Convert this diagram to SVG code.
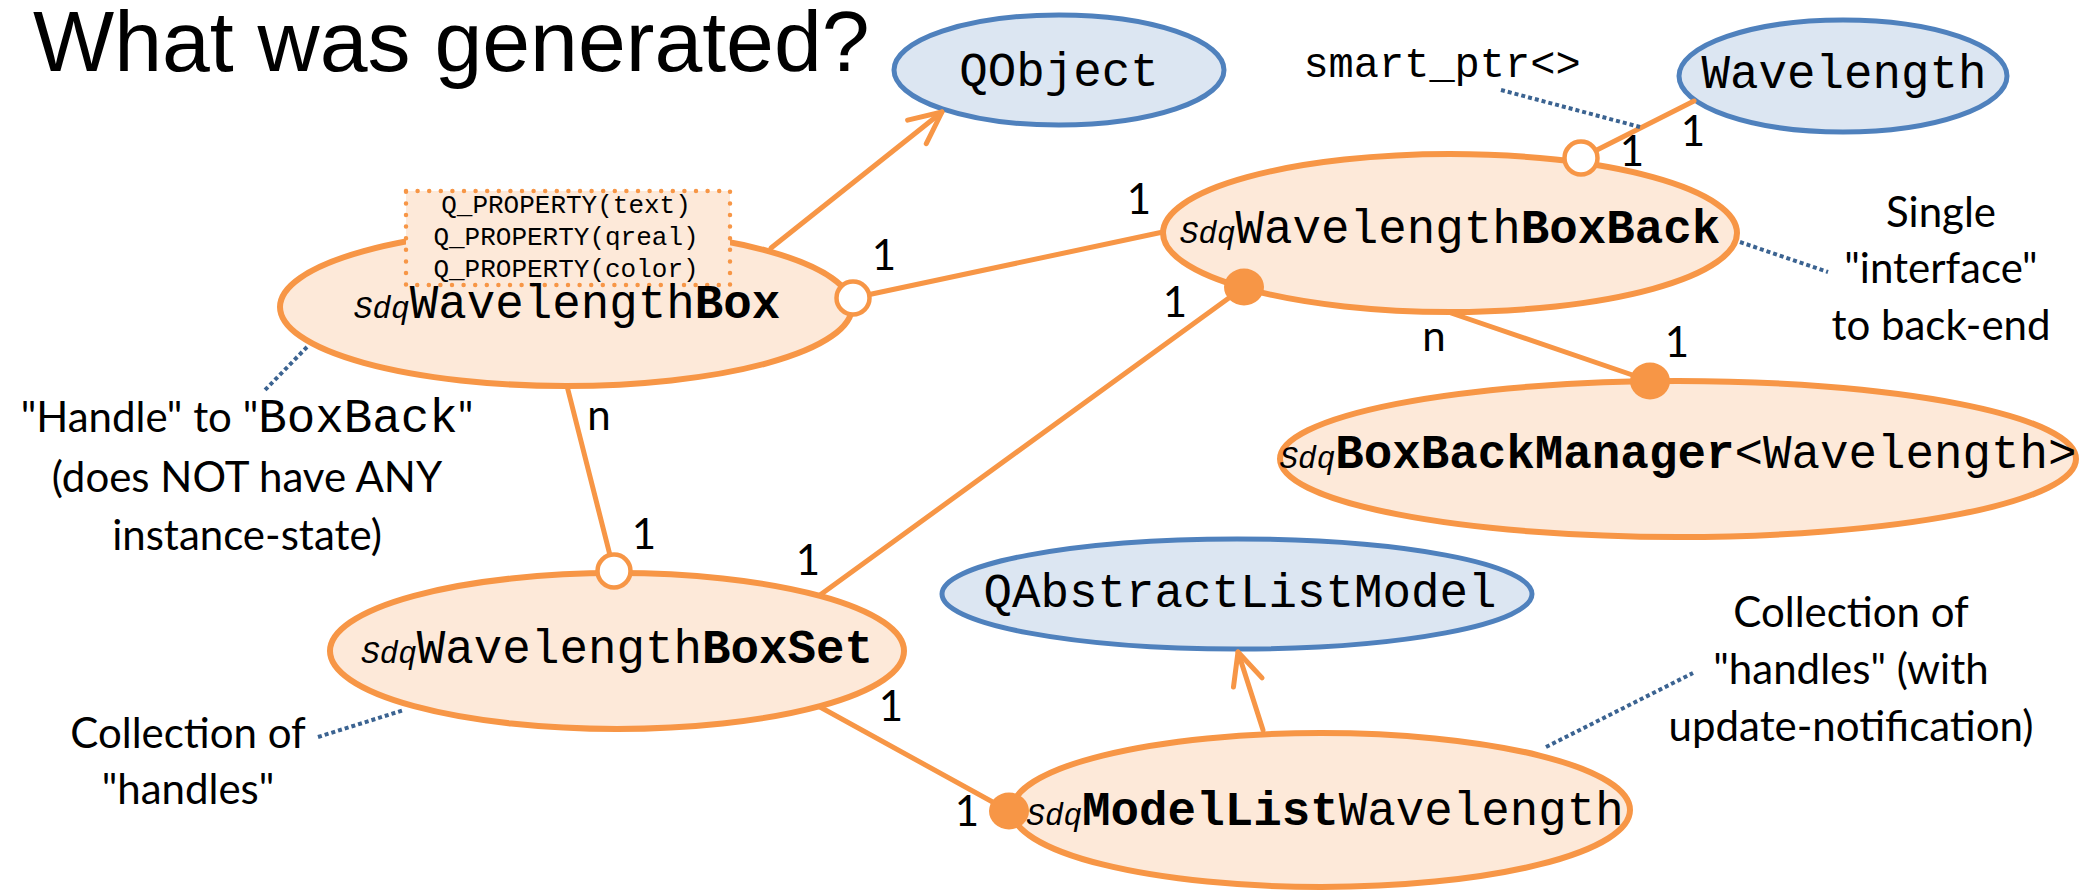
<svg xmlns="http://www.w3.org/2000/svg" width="2084" height="892" viewBox="0 0 2084 892">
  <style>
    .cls { fill: #FDE9D9; stroke: #F79646; stroke-width: 6; }
    .ext { fill: #DCE6F2; stroke: #4F81BD; stroke-width: 5; }
    .mono { font-family: "Liberation Mono", "DejaVu Sans Mono", monospace; font-size: 47.5px; fill: #000; }
    .sdq { font-family: "Liberation Mono", "DejaVu Sans Mono", monospace; font-size: 31px; font-style: italic; }
    .b { font-weight: bold; }
    .prop { font-family: "Liberation Mono", "DejaVu Sans Mono", monospace; font-size: 26px; fill: #000; }
    .note { font-family: Lato, "Liberation Sans", sans-serif; font-size: 42px; fill: #000; }
    .link { stroke: #F79646; stroke-width: 5; fill: none; stroke-linecap: round; }
    .hint { stroke: #3B6391; stroke-width: 4; stroke-dasharray: 4 3; fill: none; }
    .open { fill: #FFFFFF; stroke: #F79646; stroke-width: 4.5; }
    .full { fill: #F79646; stroke: none; }
  </style>
  <defs>
    <marker id="arrow" markerUnits="userSpaceOnUse" viewBox="-40 -30 50 60" refX="0" refY="0" markerWidth="50" markerHeight="60" orient="auto" overflow="visible">
      <path d="M-32,-15 L0,0 L-32,15" fill="none" stroke="#F79646" stroke-width="5" stroke-linecap="round" stroke-linejoin="round"/>
    </marker>
  </defs>

  <rect width="2084" height="892" fill="#FFFFFF"/>

  <text x="33" y="71" font-family="'Liberation Sans', Arial, sans-serif" font-size="86" fill="#000">What was generated?</text>

  <!-- external base classes -->
  <g id="qobject">
    <ellipse class="ext" cx="1059" cy="70" rx="165" ry="55"/>
    <text class="mono" x="1059" y="86" text-anchor="middle">QObject</text>
  </g>
  <g id="wavelength">
    <ellipse class="ext" cx="1843" cy="76" rx="164" ry="56"/>
    <text class="mono" x="1844" y="88" text-anchor="middle">Wavelength</text>
  </g>
  <g id="qabstractlistmodel">
    <ellipse class="ext" cx="1237" cy="594" rx="295" ry="55"/>
    <text class="mono" x="1240" y="607" text-anchor="middle">QAbstractListModel</text>
  </g>

  <!-- generated classes -->
  <g id="box">
    <ellipse class="cls" cx="566" cy="307" rx="286" ry="79"/>
    <rect x="406" y="191" width="324" height="94" fill="#FDE9D9" stroke="#F79646" stroke-width="4.5" stroke-dasharray="0 11.6" stroke-linecap="round"/>
    <text class="prop" x="566" y="213" text-anchor="middle">Q_PROPERTY(text)</text>
    <text class="prop" x="566" y="245" text-anchor="middle">Q_PROPERTY(qreal)</text>
    <text class="prop" x="566" y="277" text-anchor="middle">Q_PROPERTY(color)</text>
    <text class="mono" x="567" y="318" text-anchor="middle"><tspan class="sdq">Sdq</tspan>Wavelength<tspan class="b">Box</tspan></text>
  </g>
  <g id="boxback">
    <ellipse class="cls" cx="1450" cy="233" rx="287" ry="79"/>
    <text class="mono" x="1450" y="243" text-anchor="middle"><tspan class="sdq">Sdq</tspan>Wavelength<tspan class="b">BoxBack</tspan></text>
  </g>
  <g id="boxbackmanager">
    <ellipse class="cls" cx="1678" cy="459" rx="398" ry="78"/>
    <text class="mono" x="1678" y="468" text-anchor="middle"><tspan class="sdq">Sdq</tspan><tspan class="b">BoxBackManager</tspan>&lt;Wavelength&gt;</text>
  </g>
  <g id="boxset">
    <ellipse class="cls" cx="617" cy="651" rx="287" ry="78"/>
    <text class="mono" x="617" y="663" text-anchor="middle"><tspan class="sdq">Sdq</tspan>Wavelength<tspan class="b">BoxSet</tspan></text>
  </g>
  <g id="modellist">
    <ellipse class="cls" cx="1321" cy="810" rx="309" ry="77"/>
    <text class="mono" x="1325" y="825" text-anchor="middle"><tspan class="sdq">Sdq</tspan><tspan class="b">ModelList</tspan>Wavelength</text>
  </g>

  <!-- associations, inheritance arrows and their end markers -->
  <g id="connectors">
    <line class="link" x1="771" y1="248" x2="942" y2="112" marker-end="url(#arrow)"/>
    <line class="link" x1="1263" y1="730" x2="1238" y2="652" marker-end="url(#arrow)"/>
    <line class="link" x1="853" y1="298" x2="1163" y2="232"/>
    <line class="link" x1="1694" y1="101" x2="1581" y2="158"/>
    <line class="link" x1="1451" y1="313" x2="1650" y2="381"/>
    <line class="link" x1="567" y1="386" x2="614" y2="571"/>
    <line class="link" x1="820" y1="595" x2="1244" y2="287"/>
    <line class="link" x1="820" y1="707" x2="1009" y2="811"/>

    <circle class="open" cx="853" cy="298" r="16.5"/>
    <circle class="open" cx="1581" cy="158" r="16.5"/>
    <circle class="open" cx="614" cy="571" r="16.5"/>
    <ellipse class="full" cx="1244" cy="287" rx="20" ry="18.5"/>
    <ellipse class="full" cx="1650" cy="381" rx="20" ry="18.5"/>
    <ellipse class="full" cx="1009" cy="811" rx="20" ry="18.5"/>

    <text class="note" x="884" y="270" text-anchor="middle">1</text>
    <text class="note" x="1139" y="214" text-anchor="middle">1</text>
    <text class="note" x="1693" y="146" text-anchor="middle">1</text>
    <text class="note" x="1632" y="166" text-anchor="middle">1</text>
    <text class="note" x="1434" y="351" text-anchor="middle">n</text>
    <text class="note" x="1677" y="357" text-anchor="middle">1</text>
    <text class="note" x="599" y="430" text-anchor="middle">n</text>
    <text class="note" x="644" y="549" text-anchor="middle">1</text>
    <text class="note" x="808" y="575" text-anchor="middle">1</text>
    <text class="note" x="1175" y="317" text-anchor="middle">1</text>
    <text class="note" x="891" y="721" text-anchor="middle">1</text>
    <text class="note" x="967" y="826" text-anchor="middle">1</text>
  </g>

  <!-- explanatory notes with dotted leaders -->
  <g id="note-smartptr">
    <line class="hint" x1="1501" y1="90" x2="1640" y2="127"/>
    <text x="1442" y="77" text-anchor="middle" font-family="'Liberation Mono', monospace" font-size="42">smart_ptr&lt;&gt;</text>
  </g>
  <g id="note-interface">
    <line class="hint" x1="1740" y1="242" x2="1828" y2="272"/>
    <text class="note" x="1941" y="227" text-anchor="middle">Single</text>
    <text class="note" x="1941" y="283" text-anchor="middle">"interface"</text>
    <text class="note" x="1941" y="340" text-anchor="middle">to back-end</text>
  </g>
  <g id="note-handle">
    <line class="hint" x1="307" y1="347" x2="265" y2="390"/>
    <text class="note" x="247" y="432" text-anchor="middle">"Handle" to "<tspan font-family="'Liberation Mono', monospace" font-size="47.5">BoxBack</tspan>"</text>
    <text class="note" x="247" y="492" text-anchor="middle">(does NOT have ANY</text>
    <text class="note" x="247" y="550" text-anchor="middle">instance-state)</text>
  </g>
  <g id="note-collection">
    <line class="hint" x1="318" y1="737" x2="404" y2="710"/>
    <text class="note" x="188" y="748" text-anchor="middle">Collection of</text>
    <text class="note" x="188" y="804" text-anchor="middle">"handles"</text>
  </g>
  <g id="note-model">
    <line class="hint" x1="1546" y1="747" x2="1693" y2="673"/>
    <text class="note" x="1851" y="627" text-anchor="middle">Collection of</text>
    <text class="note" x="1851" y="684" text-anchor="middle">"handles" (with</text>
    <text class="note" x="1851" y="741" text-anchor="middle">update-notification)</text>
  </g>
</svg>
